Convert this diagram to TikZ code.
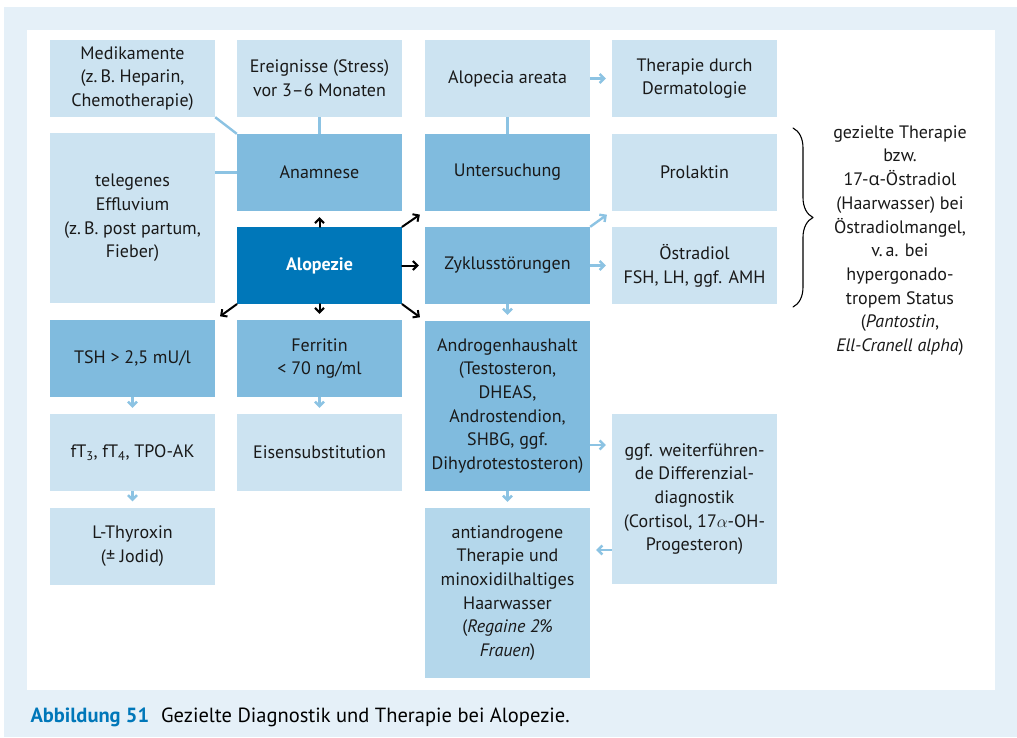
\documentclass[tikz,border=0pt]{standalone}
\usepackage{fontspec}
\setmainfont{PT Sans}
\newfontfamily\greekfont{Open Sans}
\usepackage{amsmath}
\usetikzlibrary{arrows.meta,decorations.pathreplacing,calc}
\definecolor{panelblue}{HTML}{E5F0F8}
\definecolor{boxlight}{HTML}{CCE3F1}
\definecolor{boxpale}{HTML}{B4D7EB}
\definecolor{boxmid}{HTML}{80BBDE}
\definecolor{boxdark}{HTML}{0077B9}
\definecolor{linkblue}{HTML}{8CC3E3}
\begin{document}
\begin{tikzpicture}[line cap=round,line join=round,>={Straight Barb[length=4.5pt,width=9pt]},x=1pt,y=-1pt,
                    font=\fontsize{18}{23.7}\selectfont,
                    box/.style={minimum width=165pt,minimum height=77pt,align=center,inner sep=0pt,text=black!90},
                    light/.style={box,fill=boxlight},
                    pale/.style={box,fill=boxpale},
                    mid/.style={box,fill=boxmid},
                    dark/.style={box,fill=boxdark,text=white},
                    tall/.style={minimum height=170pt},
                    link/.style={line width=2.4pt,color=linkblue,line cap=butt},
                    lightarrow/.style={link,->,shorten >=6pt},
                    blackarrow/.style={line width=2pt,black,->,shorten >=6pt}]
                        \useasboundingbox (0,0) rectangle (1017,737);
                        \fill [white] (0,0) rectangle (1017,737);
                        \fill [panelblue] (4,7) rectangle (1017,737);
                        \fill [white] (27,30) rectangle (995,690);
                        \node[light] (medikamente) at (132.5,78.5) {Medikamente\\(z.\,B. Heparin,\\Chemotherapie)};
                        \node[light] (ereignisse) at (319.5,78.5) {Ereignisse (Stress)\\vor 3–6 Monaten};
                        \node[light] (areata) at (507.5,78.5) {Alopecia areata};
                        \node[light] (dermatologie) at (694.5,78.5) {Therapie durch\\Dermatologie};
                        \node[light,tall] (effluvium) at (132.5,218) {telegenes\\Effluvium\\(z.\,B. post partum,\\Fieber)};
                        \node[mid] (anamnese) at (319.5,172.5) {Anamnese};
                        \node[mid] (untersuchung) at (507.5,172.5) {Untersuchung};
                        \node[light] (prolaktin) at (694.5,172.5) {Prolaktin};
                        \node[dark] (alopezie) at (319.5,265.5) {\bfseries Alopezie};
                        \node[mid] (zyklus) at (507.5,265.5) {Zyklusstörungen};
                        \node[light] (oestradiol) at (694.5,265.5) {Östradiol\\FSH, LH, ggf. AMH};
                        \node[mid] (tsh) at (132.5,358.5) {TSH > 2,5 mU/l};
                        \node[mid] (ferritin) at (319.5,358.5) {Ferritin\\< 70 ng/ml};
                        \node[mid,tall] (androgen) at (507.5,406) {Androgenhaushalt\\(Testosteron,\\DHEAS,\\Androstendion,\\SHBG, ggf.\\Dihydrotestosteron)};
                        \node[light] (ft) at (132.5,452.5) {fT\textsubscript{3}, fT\textsubscript{4}, TPO-AK};
                        \node[light] (eisen) at (319.5,452.5) {Eisensubstitution};
                        \node[light,tall] (differenzial) at (694.5,499) {ggf. weiterführen-\\de Differenzial-\\diagnostik\\(Cortisol, 17$\alpha$-OH-\\Progesteron)};
                        \node[light] (thyroxin) at (132.5,546) {L-Thyroxin\\(± Jodid)};
                        \node[pale,tall] (antiandrogen) at (507.5,593) {antiandrogene\\Therapie und\\minoxidilhaltiges\\Haarwasser\\(\textit{Regaine 2\%}\\\textit{Frauen})};
                        \node[align=center,text=black!90] (gezielt) at (900,240.5) {gezielte Therapie\\bzw.\\17-{\greekfont α}-Östradiol\\(Haarwasser) bei\\Östradiolmangel,\\v.\,a. bei\\hypergonado-\\tropem Status\\(\textit{Pantostin},\\\textit{Ell-Cranell alpha})};
                        \draw [link] (medikamente.south east) -- (anamnese.north west);
                        \draw [link] (ereignisse.south) -- (anamnese.north);
                        \draw [link] (anamnese.west -| effluvium.east) -- (anamnese.west);
                        \draw [link] (areata.south) -- (untersuchung.north);
                        \draw [lightarrow] (areata.east) -- (dermatologie.west);
                        \draw [blackarrow] (alopezie.north) -- (anamnese.south);
                        \draw [blackarrow] (alopezie.north east) -- (untersuchung.south west);
                        \draw [blackarrow] (alopezie.east) -- (zyklus.west);
                        \draw [blackarrow] (alopezie.south east) -- (androgen.north west);
                        \draw [blackarrow] (alopezie.south) -- (ferritin.north);
                        \draw [blackarrow] (alopezie.south west) -- (tsh.north east);
                        \draw [lightarrow] (zyklus.north east) -- (prolaktin.south west);
                        \draw [lightarrow] (zyklus.east) -- (oestradiol.west);
                        \draw [lightarrow] (zyklus.south) -- (androgen.north);
                        \draw [lightarrow] (tsh.south) -- (ft.north);
                        \draw [lightarrow] (ft.south) -- (thyroxin.north);
                        \draw [lightarrow] (ferritin.south) -- (eisen.north);
                        \draw [lightarrow] ([yshift=-39pt]androgen.east) -- ([yshift=-39pt]androgen.east -| differenzial.west);
                        \draw [lightarrow] (androgen.south) -- (antiandrogen.north);
                        \draw [lightarrow] ([yshift=-51pt]differenzial.west) -- ([yshift=-51pt]differenzial.west -| antiandrogen.east);
                        \coordinate (bracetop) at (793,128);
                        \coordinate (bracebottom) at (793,307);
                        \draw [line width=1.1pt,decorate,decoration={brace,amplitude=20pt}] (bracetop) -- (bracebottom);
                        \node[anchor=base west,font=\fontsize{20.5}{24}\selectfont] (caption) at (27,722) {{\color{boxdark}\bfseries Abbildung 51}\hspace{12pt}Gezielte Diagnostik und Therapie bei Alopezie.};
                    \end{tikzpicture}
\end{document}
